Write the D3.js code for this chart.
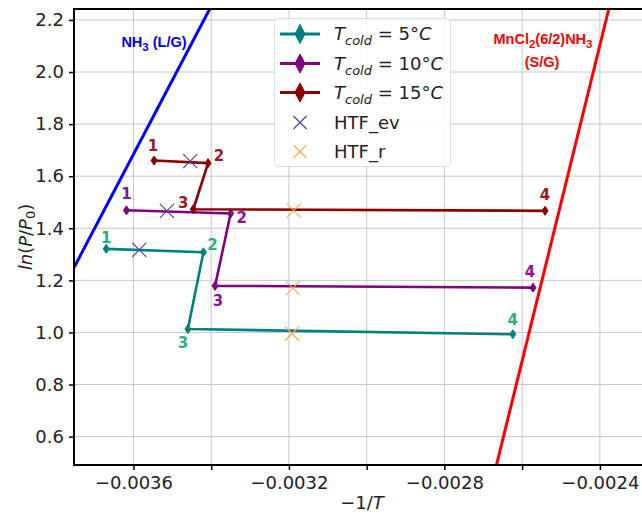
<!DOCTYPE html>
<html>
<head>
<meta charset="utf-8">
<script src="https://cdn.jsdelivr.net/npm/d3@7"></script>
<style>
  html, body { margin: 0; padding: 0; background: #ffffff; }
  svg { display: block; font-family: "DejaVu Sans", sans-serif; }
</style>
</head>
<body>
<svg id="chart" width="642" height="514"></svg>
<script>
// Cycle states 1-4 for each cold-source temperature (x = -1/T, y = ln(P/P0))
const cycle5X  = [-0.003670, -0.003420, -0.003460, -0.002624];
const cycle5Y  = [1.321, 1.308, 1.013, 0.993];
const cycle10X = [-0.003618, -0.003350, -0.003390, -0.002572];
const cycle10Y = [1.469, 1.457, 1.179, 1.172];
const cycle15X = [-0.003547, -0.003408, -0.003446, -0.002541];
const cycle15Y = [1.660, 1.650, 1.473, 1.467];
const pointNames = ["1", "2", "3", "4"];

// Heat-transfer-fluid states
const htfEvX = [-0.003585, -0.003514, -0.003454];
const htfEvY = [1.317, 1.467, 1.658];
const htfRX  = [-0.003192, -0.003190, -0.003188];
const htfRY  = [0.995, 1.170, 1.468];

// Equilibrium lines (end points)
const nh3X  = [-0.00376, -0.00340];
const nh3Y  = [1.229, 2.253];
const saltX = [-0.002666, -0.002377];
const saltY = [0.491, 2.242];

// Axis ticks
const xTicks = [-0.0036, -0.0034, -0.0032, -0.0030, -0.0028, -0.0026, -0.0024];
const xTickLabels = ["\u22120.0036", "", "\u22120.0032", "", "\u22120.0028", "", "\u22120.0024"];
const yTicks = [0.6, 0.8, 1.0, 1.2, 1.4, 1.6, 1.8, 2.0, 2.2];

const series = [
  { xs: cycle5X,  ys: cycle5Y,  line: "#008080", label: "#2bb07f", temp: "5",
    offs: [[0, -11], [9, -7], [-5, 14], [0, -14]] },
  { xs: cycle10X, ys: cycle10Y, line: "#800080", label: "#8e0f9c", temp: "10",
    offs: [[0, -16], [11, 5], [3, 15], [-3, -16]] },
  { xs: cycle15X, ys: cycle15Y, line: "#8b0000", label: "#a3161b", temp: "15",
    offs: [[-1, -15], [11, -7], [-10, -6], [0, -16]] }
];

const W = 642, H = 514;
const m = { left: 74, top: 9, right: 650, bottom: 465 };

const x = d3.scaleLinear().domain([-0.003753, -0.002271]).range([m.left, m.right]);
const y = d3.scaleLinear().domain([0.491, 2.242]).range([m.bottom, m.top]);

const svg = d3.select("#chart");

svg.append("defs").append("clipPath").attr("id", "plotClip")
  .append("rect")
  .attr("x", m.left).attr("y", m.top)
  .attr("width", m.right - m.left).attr("height", m.bottom - m.top);

// Grid
const grid = svg.append("g");
grid.selectAll("line.gx").data(xTicks).join("line")
  .attr("x1", d => x(d)).attr("x2", d => x(d))
  .attr("y1", m.top).attr("y2", m.bottom)
  .attr("stroke", "#c8c8c8").attr("stroke-width", 1);
grid.selectAll("line.gy").data(yTicks).join("line")
  .attr("y1", d => y(d)).attr("y2", d => y(d))
  .attr("x1", m.left).attr("x2", m.right)
  .attr("stroke", "#c8c8c8").attr("stroke-width", 1);

// Axes
const xAxis = d3.axisBottom(x).tickValues(xTicks)
  .tickFormat((d, i) => xTickLabels[i]).tickSizeOuter(0).tickSize(5).tickPadding(6);
const yAxis = d3.axisLeft(y).tickValues(yTicks)
  .tickFormat(d3.format(".1f")).tickSizeOuter(0).tickSize(5).tickPadding(5);

const gx = svg.append("g").attr("transform", `translate(0,${m.bottom})`).call(xAxis);
const gy = svg.append("g").attr("transform", `translate(${m.left},0)`).call(yAxis);
[gx, gy].forEach(g => {
  g.select(".domain").remove();
  g.selectAll(".tick line").attr("stroke", "#000").attr("stroke-width", 1.5);
  g.selectAll(".tick text").attr("fill", "#222").style("font-size", "18px")
    .style("font-family", "'DejaVu Sans', sans-serif");
});

const plot = svg.append("g").attr("clip-path", "url(#plotClip)");
const lineGen = d3.line().x(d => x(d[0])).y(d => y(d[1]));

// Equilibrium lines
plot.append("path").datum(d3.zip(nh3X, nh3Y)).attr("d", lineGen)
  .attr("fill", "none").attr("stroke", "#0000ff").attr("stroke-width", 3);
plot.append("path").datum(d3.zip(saltX, saltY)).attr("d", lineGen)
  .attr("fill", "none").attr("stroke", "#ff0000").attr("stroke-width", 3);

const diamond = (w, h) => `M0,${-h}L${w},0L0,${h}L${-w},0Z`;
const cross = s => `M${-s},${-s}L${s},${s}M${-s},${s}L${s},${-s}`;

// Cycle paths with markers
series.forEach(s => {
  const pts = d3.zip(s.xs, s.ys);
  plot.append("path").datum(pts).attr("d", lineGen)
    .attr("fill", "none").attr("stroke", s.line).attr("stroke-width", 2.6)
    .attr("stroke-linejoin", "round");
  plot.selectAll(null).data(pts).join("path")
    .attr("transform", d => `translate(${x(d[0])},${y(d[1])})`)
    .attr("d", diamond(3, 4.5)).attr("fill", s.line).attr("stroke", s.line).attr("stroke-width", 1);
});

// HTF markers
plot.selectAll(null).data(d3.zip(htfEvX, htfEvY)).join("path")
  .attr("transform", d => `translate(${x(d[0])},${y(d[1])})`)
  .attr("d", cross(7)).attr("fill", "none").attr("stroke", "#483d9b").attr("stroke-width", 1.1);
plot.selectAll(null).data(d3.zip(htfRX, htfRY)).join("path")
  .attr("transform", d => `translate(${x(d[0])},${y(d[1])})`)
  .attr("d", cross(7)).attr("fill", "none").attr("stroke", "#ffa94d").attr("stroke-width", 1.1);

// State numbers
series.forEach(s => {
  svg.selectAll(null).data(pointNames).join("text")
    .attr("x", (d, i) => x(s.xs[i]) + s.offs[i][0])
    .attr("y", (d, i) => y(s.ys[i]) + s.offs[i][1])
    .attr("text-anchor", "middle").attr("dominant-baseline", "central")
    .attr("fill", s.label).style("font-size", "15px").style("font-weight", "bold")
    .text(d => d);
});

// Line annotations
const annFont = "'Liberation Sans', Arial, sans-serif";
const nh3Label = svg.append("text").attr("x", 154).attr("y", 47)
  .attr("text-anchor", "middle").attr("fill", "#0000ff")
  .style("font-size", "14.5px").style("font-weight", "bold")
  .style("font-family", annFont);
nh3Label.append("tspan").text("NH");
nh3Label.append("tspan").attr("dy", 4).style("font-size", "11.5px").text("3");
nh3Label.append("tspan").attr("dy", -4).text(" (L/G)");

const saltLabel = svg.append("text").attr("x", 543).attr("y", 44)
  .attr("text-anchor", "middle").attr("fill", "#ff0000")
  .style("font-size", "14.5px").style("font-weight", "bold")
  .style("font-family", annFont);
saltLabel.append("tspan").text("MnCl");
saltLabel.append("tspan").attr("dy", 4).style("font-size", "11.5px").text("2");
saltLabel.append("tspan").attr("dy", -4).text("(6/2)NH");
saltLabel.append("tspan").attr("dy", 4).style("font-size", "11.5px").text("3");
svg.append("text").attr("x", 542).attr("y", 67)
  .attr("text-anchor", "middle").attr("fill", "#ff0000")
  .style("font-size", "14.5px").style("font-weight", "bold")
  .style("font-family", annFont)
  .text("(S/G)");

// Frame: left, bottom and top spines
svg.append("line").attr("x1", m.left).attr("x2", m.left).attr("y1", m.top).attr("y2", m.bottom)
  .attr("stroke", "#000").attr("stroke-width", 2);
svg.append("line").attr("x1", m.left - 1).attr("x2", W).attr("y1", m.bottom).attr("y2", m.bottom)
  .attr("stroke", "#000").attr("stroke-width", 2);
svg.append("line").attr("x1", m.left - 1).attr("x2", W).attr("y1", m.top).attr("y2", m.top)
  .attr("stroke", "#000").attr("stroke-width", 2);

// Axis titles
const xTitle = svg.append("text").attr("x", 362).attr("y", 509)
  .attr("text-anchor", "middle").attr("fill", "#222").style("font-size", "18px");
xTitle.append("tspan").text("\u22121/");
xTitle.append("tspan").style("font-style", "italic").text("T");

const yTitle = svg.append("text")
  .attr("transform", `translate(32,${(m.top + m.bottom) / 2}) rotate(-90)`)
  .attr("text-anchor", "middle").attr("fill", "#222").style("font-size", "18px");
yTitle.append("tspan").style("font-style", "italic").text("ln");
yTitle.append("tspan").text("(");
yTitle.append("tspan").style("font-style", "italic").text("P");
yTitle.append("tspan").text("/");
yTitle.append("tspan").style("font-style", "italic").text("P");
yTitle.append("tspan").attr("dy", 3).style("font-size", "13px").text("0");
yTitle.append("tspan").attr("dy", -3).text(")");

// Legend
const lg = svg.append("g");
lg.append("rect").attr("x", 274.5).attr("y", 18.5).attr("width", 176).attr("height", 148)
  .attr("rx", 4).attr("fill", "#ffffff").attr("fill-opacity", 0.85)
  .attr("stroke", "#dddddd").attr("stroke-width", 1);
const rowY = [34, 63.5, 92.5, 122.5, 151.5];
series.forEach((s, i) => {
  const g = lg.append("g").attr("transform", `translate(0,${rowY[i]})`);
  g.append("line").attr("x1", 280).attr("x2", 320).attr("y1", 0).attr("y2", 0)
    .attr("stroke", s.line).attr("stroke-width", 3);
  g.append("path").attr("transform", "translate(300,0)").attr("d", diamond(5, 9.5))
    .attr("fill", s.line).attr("stroke", s.line).attr("stroke-width", 1);
  const t = g.append("text").attr("x", 334).attr("y", 6).attr("fill", "#222").style("font-size", "18px");
  t.append("tspan").style("font-style", "italic").text("T");
  t.append("tspan").attr("dy", 5).style("font-style", "italic").style("font-size", "13px").text("cold");
  t.append("tspan").attr("dy", -5).text(` = ${s.temp}\u00b0`);
  t.append("tspan").style("font-style", "italic").text("C");
});
const legendHtf = [
  { name: "HTF_ev", color: "#483d9b" },
  { name: "HTF_r", color: "#ffa94d" }
];
legendHtf.forEach((h, j) => {
  const g = lg.append("g").attr("transform", `translate(0,${rowY[3 + j]})`);
  g.append("path").attr("transform", "translate(300,0)").attr("d", cross(6.5))
    .attr("fill", "none").attr("stroke", h.color).attr("stroke-width", 1.1);
  g.append("text").attr("x", 334).attr("y", 6.5).attr("fill", "#222").style("font-size", "18px").text(h.name);
});
</script>
</body>
</html>
